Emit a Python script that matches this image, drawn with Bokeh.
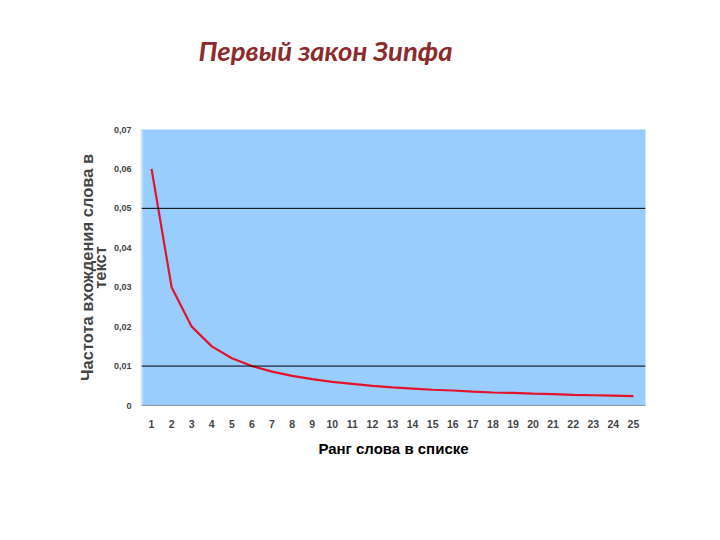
import math
from bokeh.plotting import figure
from bokeh.models import Range1d, FixedTicker, Title, Span
from bokeh.embed import file_html
from bokeh.resources import INLINE

# Data
ranks = list(range(1, 26))
freq = [0.060, 0.030, 0.020, 0.015, 0.012, 0.010, 0.0086, 0.0075, 0.0067, 0.0060,
        0.0055, 0.0050, 0.0046, 0.0043, 0.0040, 0.0038, 0.0035, 0.0033, 0.0032, 0.0030,
        0.0029, 0.0027, 0.0026, 0.0025, 0.0024]
y_ticks = [0.0, 0.01, 0.02, 0.03, 0.04, 0.05, 0.06, 0.07]
y_tick_labels = ["0", "0,01", "0,02", "0,03", "0,04", "0,05", "0,06", "0,07"]
grid_levels = [0.01, 0.05]

title_text = "Первый закон Зипфа"
y_title_1 = "Частота вхождения слова в"
y_title_2 = "текст"
x_title = "Ранг слова в списке"

W, H = 700, 520
p = figure(width=W, height=H, output_backend="svg", toolbar_location=None,
           x_range=Range1d(0.5, 25.6), y_range=Range1d(0, 0.07),
           min_border_left=141, min_border_right=W - 645, min_border_top=129,
           min_border_bottom=H - 405)
p.background_fill_color = "#99CCFF"
p.border_fill_color = "white"
p.outline_line_color = None
p.xgrid.visible = False
p.ygrid.visible = False

for g in grid_levels:
    p.add_layout(Span(location=g, dimension="width", line_color="black", line_width=1))

p.line(ranks, freq, line_color="#E3132C", line_width=2.2)

# axes
p.yaxis.ticker = FixedTicker(ticks=y_ticks)
p.yaxis.major_label_overrides = {t: l for t, l in zip(y_ticks, y_tick_labels)}
p.yaxis.major_tick_line_color = None
p.yaxis.minor_tick_line_color = None
p.yaxis.axis_line_color = "#d8e4ee"
p.yaxis.axis_line_width = 2
p.yaxis.major_label_text_font = "Liberation Sans"
p.yaxis.major_label_text_font_size = "9px"
p.yaxis.major_label_text_font_style = "bold"
p.yaxis.major_label_standoff = 4

p.xaxis.ticker = FixedTicker(ticks=ranks)
p.xaxis.major_tick_line_color = None
p.xaxis.minor_tick_line_color = None
p.xaxis.axis_line_color = "#8899aa"
p.xaxis.major_label_text_font = "Liberation Sans"
p.xaxis.major_label_text_font_size = "10.5px"
p.xaxis.major_label_text_font_style = "bold"
p.xaxis.major_label_standoff = 8
p.xaxis.axis_label = x_title
p.xaxis.axis_label_text_font = "Liberation Sans"
p.xaxis.axis_label_text_font_size = "15px"
p.xaxis.axis_label_text_font_style = "bold"
p.xaxis.axis_label_text_color = "black"
p.xaxis.axis_label_standoff = 9

# second (blank) line lifts the title towards the top of the page
p.title.text = title_text + "\n\u00a0"
p.title.align = "left"
p.title.offset = 57
p.title.standoff = 60
p.title.text_font = "Lato"
p.title.text_font_size = "27.5px"
p.title.text_font_style = "bold italic"
p.title.text_color = "#8B2B2B"

p.add_layout(Title(text=y_title_2, align="center", text_font="Liberation Sans",
                   text_font_size="16.5px", text_font_style="bold", standoff=3), "left")
p.add_layout(Title(text=y_title_1, align="center", text_font="Liberation Sans",
                   text_font_size="16.5px", text_font_style="bold", standoff=-16), "left")

open("out.html", "w").write(file_html(p, INLINE))
